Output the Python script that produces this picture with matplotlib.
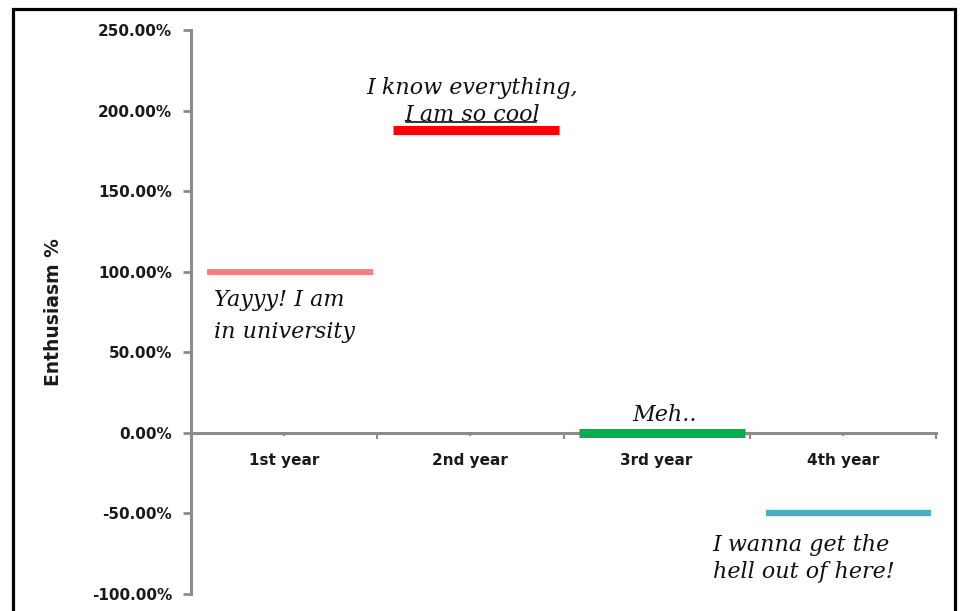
import matplotlib
matplotlib.use("Agg")
import matplotlib.pyplot as plt
from matplotlib.ticker import PercentFormatter, FixedLocator
from matplotlib.patches import Rectangle
from matplotlib.lines import Line2D
import numpy as np

plt.rcParams["axes.unicode_minus"] = False

# ---- data ----
categories = ["1st year", "2nd year", "3rd year", "4th year"]
enthusiasm = [1.00, 1.88, 0.00, -0.50]
notes = ["Yayyy! I am\nin university", "I know everything,", "Meh..",
         "I wanna get the\nhell out of here!"]
note_cool = "I am so cool"
y_ticks = [-1.0, -0.5, 0.0, 0.5, 1.0, 1.5, 2.0, 2.5]
y_label = "Enthusiasm %"

# ---- style ----
colors = ["#FF7C80", "#FF0000", "#00B050", "#4BACC6"]
widths = [4.3, 6.5, 6.5, 4.6]
axis_grey = "#8c8c8c"
txt_col = "#1a1a1a"
hand = dict(family="DejaVu Serif", style="italic", fontsize=16, color="#111111")

fig = plt.figure(figsize=(9.68, 6.11), dpi=100)
ax = fig.add_axes([191 / 968, 17 / 611, (936 - 191) / 968, (594 - 30) / 611])

x = np.arange(len(categories))
ax.set_xlim(-0.5, len(categories) - 0.5)
ax.set_ylim(min(y_ticks), max(y_ticks))

# bars as thick horizontal segments
half = 0.445
shift = 0.03
for xi, v, c, w in zip(x, enthusiasm, colors, widths):
    ax.hlines(v, xi + shift - half, xi + shift + half, colors=c, linewidth=w,
              capstyle="butt", zorder=3)

# axes styling
for s in ["top", "right"]:
    ax.spines[s].set_visible(False)
ax.spines["bottom"].set_position(("data", 0))
for s in ["left", "bottom"]:
    ax.spines[s].set_color(axis_grey)
    ax.spines[s].set_linewidth(2.2)
    ax.spines[s].set_zorder(2)

ax.yaxis.set_major_locator(FixedLocator(y_ticks))
ax.yaxis.set_major_formatter(PercentFormatter(1.0, decimals=2))
ax.tick_params(axis="y", direction="out", length=5.5, width=2, color=axis_grey,
               pad=8, labelsize=11, labelcolor=txt_col)
for lab in ax.get_yticklabels():
    lab.set_fontweight("bold")

ax.set_xticks(x)
ax.set_xticklabels(categories, fontsize=11, fontweight="bold", color=txt_col)
ax.set_xticks(np.arange(len(categories) + 1) - 0.5, minor=True)
ax.tick_params(axis="x", which="major", direction="out", length=2.5, width=1.5,
               color=axis_grey, pad=12)
ax.tick_params(axis="x", which="minor", direction="out", length=4, width=1.5,
               color=axis_grey)

ax.set_ylabel(y_label, fontsize=13.5, fontweight="bold", color=txt_col)
ax.yaxis.set_label_coords(-0.172, 0.5)

# annotations, positioned relative to their bars
left = lambda i: x[i] + shift - half
ctr = lambda i: x[i] + shift
ax.annotate(notes[0], xy=(left(0), enthusiasm[0]), xytext=(5, -12.5),
            textcoords="offset points", ha="left", va="top", linespacing=1.6, **hand)
ax.annotate(notes[1], xy=(ctr(1), enthusiasm[1]), xytext=(-3, 22.5),
            textcoords="offset points", ha="center", va="bottom", **hand)
cool = ax.annotate(note_cool, xy=(ctr(1), enthusiasm[1]), xytext=(-3, 3),
                   textcoords="offset points", ha="center", va="bottom", **hand)
ax.annotate(notes[2], xy=(ctr(2), enthusiasm[2]), xytext=(2, 5),
            textcoords="offset points", ha="center", va="bottom", **hand)
ax.annotate(notes[3], xy=(left(3), enthusiasm[3]), xytext=(-38, -15),
            textcoords="offset points", ha="left", va="top", linespacing=1.3, **hand)

# underline "I am so cool"
fig.canvas.draw()
bb = cool.get_window_extent()
fig.add_artist(Line2D([bb.x0 + 2, bb.x1 - 4], [bb.y0 + 4, bb.y0 + 4],
                      transform=None, color="#111111", linewidth=1.2))

# outer frame
fig.add_artist(Rectangle((13 / 968, -0.05), (955 - 13) / 968, 1 - 9 / 611 + 0.05,
                         transform=fig.transFigure, fill=False, edgecolor="black",
                         linewidth=2.3))

fig.savefig("out.png", dpi=100)
